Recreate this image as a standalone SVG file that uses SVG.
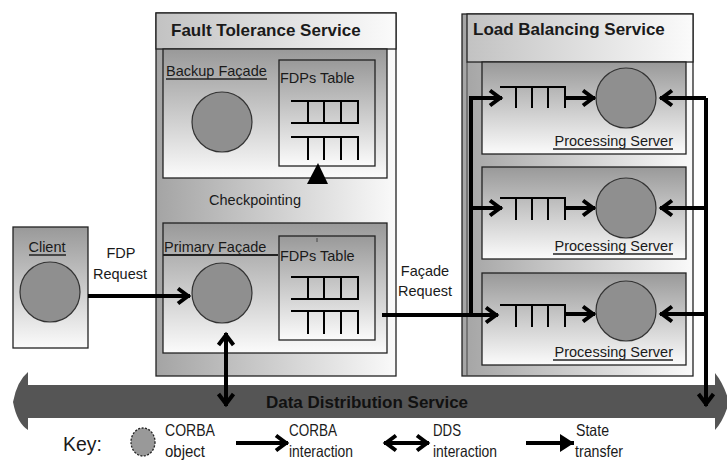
<svg xmlns="http://www.w3.org/2000/svg" width="727" height="461" viewBox="0 0 727 461">
<style>
text{font-family:"Liberation Sans",Arial,sans-serif;fill:#1a1a1a}
.t{font-size:14.5px}
.h{font-size:17px;font-weight:bold}
.k{font-size:16.5px}
.box{stroke:#222;stroke-width:1.3}
.obj{fill:#8f8f8f;stroke:#333;stroke-width:1.2}
.q{stroke:#000;stroke-width:2;fill:none}
.c{stroke:#000;stroke-width:4;fill:none}
.ul{stroke:#222;stroke-width:1.3}
</style>
<defs>
<linearGradient id="gH" x1="0" y1="0" x2="1" y2="0"><stop offset="0" stop-color="#a4a4a4"/><stop offset="1" stop-color="#fafafa"/></linearGradient>
<linearGradient id="gHead" x1="0" y1="0" x2="1" y2="0"><stop offset="0" stop-color="#c2c2c2"/><stop offset="1" stop-color="#fbfbfb"/></linearGradient>
<linearGradient id="gV" x1="0" y1="0" x2="0" y2="1"><stop offset="0" stop-color="#999"/><stop offset="1" stop-color="#fbfbfb"/></linearGradient>
<marker id="chev" viewBox="-16 -10 18 20" refX="0" refY="0" markerWidth="18" markerHeight="20" markerUnits="userSpaceOnUse" orient="auto-start-reverse"><path d="M-12,-7.5 L-2,0 L-12,7.5" fill="none" stroke="#000" stroke-width="4"/></marker>
<marker id="tri" viewBox="-15 -10 16 20" refX="0" refY="0" markerWidth="16" markerHeight="20" markerUnits="userSpaceOnUse" orient="auto"><path d="M-14,-9 L0,0 L-14,9 Z" fill="#000"/></marker>
</defs>
<rect width="727" height="461" fill="#fff"/>

<g id="fault-tolerance-service">
<rect x="156" y="13" width="240" height="363" fill="url(#gH)" class="box"/>
<rect x="156" y="13" width="240" height="36" fill="url(#gHead)" class="box"/>
<text x="171" y="36" class="h">Fault Tolerance Service</text>
<text x="255" y="205" class="t" text-anchor="middle">Checkpointing</text>
</g>

<g id="backup-facade">
<rect x="163" y="49" width="224" height="129" fill="url(#gV)" class="box"/>
<text x="166" y="76" class="t">Backup Façade</text>
<line x1="166" y1="79" x2="267" y2="79" class="ul"/>
<circle cx="222" cy="122" r="30" class="obj"/>
</g>
<g id="backup-fdps-table">
<rect x="279" y="60" width="96" height="106" fill="url(#gV)" class="box"/>
<text x="280" y="83" class="t">FDPs Table</text>
<path d="M291,101H359M291,123H359M308,101V123M324,101V123M341,101V123M358,101V123M291,137H359M308,137V160M324,137V160M341,137V160M358,137V160" class="q"/>
</g>

<g id="primary-facade">
<rect x="163" y="223" width="224" height="130" fill="url(#gV)" class="box"/>
<text x="164" y="252" class="t">Primary Façade</text>
<line x1="163" y1="255" x2="278" y2="255" stroke="#222" stroke-width="2"/>
<circle cx="222" cy="293" r="30" class="obj"/>
</g>
<g id="primary-fdps-table">
<rect x="279" y="236" width="96" height="104" fill="url(#gV)" class="box"/>
<line x1="317" y1="238" x2="317" y2="242" stroke="#444" stroke-width="1"/>
<text x="280" y="261" class="t">FDPs Table</text>
<path d="M291,277H359M291,299H359M308,277V299M324,277V299M341,277V299M358,277V299M291,311H359M308,311V334M324,311V334M341,311V334M358,311V334" class="q"/>
</g>

<g id="client">
<rect x="13" y="227" width="75" height="121" fill="url(#gV)" class="box"/>
<text x="47" y="252" class="t" text-anchor="middle">Client</text>
<line x1="29" y1="255" x2="66" y2="255" class="ul"/>
<circle cx="50" cy="292" r="30" class="obj"/>
</g>

<g id="load-balancing-service">
<rect x="462" y="14" width="231" height="362" fill="url(#gH)" class="box"/>
<line x1="467" y1="62" x2="467" y2="376" stroke="#444" stroke-width="1"/>
<rect x="467" y="14" width="226" height="48" fill="url(#gHead)" class="box"/>
<text x="473" y="35" class="h">Load Balancing Service</text>
</g>

<g id="processing-server-1">
<rect x="482" y="62" width="204" height="92" fill="url(#gV)" class="box"/>
<path d="M500,87H566M516,87V108M532,87V108M548,87V108M565,87V108" class="q"/>
<circle cx="626" cy="98" r="30" class="obj"/>
<text x="673" y="146" class="t" text-anchor="end">Processing Server</text>
<line x1="553" y1="149" x2="673" y2="149" class="ul"/>
</g>
<g id="processing-server-2">
<rect x="482" y="167" width="204" height="92" fill="url(#gV)" class="box"/>
<path d="M500,198H566M516,198V220M532,198V220M548,198V220M565,198V220" class="q"/>
<circle cx="626" cy="208" r="30" class="obj"/>
<text x="673" y="251" class="t" text-anchor="end">Processing Server</text>
<line x1="553" y1="254" x2="673" y2="254" class="ul"/>
</g>
<g id="processing-server-3">
<rect x="482" y="273" width="204" height="92" fill="url(#gV)" class="box"/>
<path d="M500,305H566M516,305V327M532,305V327M548,305V327M565,305V327" class="q"/>
<circle cx="626" cy="311" r="30" class="obj"/>
<text x="673" y="357" class="t" text-anchor="end">Processing Server</text>
<line x1="553" y1="360" x2="673" y2="360" class="ul"/>
</g>

<g id="data-distribution-service">
<path d="M13,402 Q17,381 28,372 L28,385 L715,385 L715,373 Q724,384 729,402 Q724,420 715,430 L715,418 L28,418 L28,430 Q17,423 13,402 Z" fill="#555"/>
<text x="367" y="408" class="h" text-anchor="middle" style="fill:#111">Data Distribution Service</text>
</g>

<g id="connectors">
<text x="121" y="258" class="t" text-anchor="middle">FDP</text>
<text x="120" y="279" class="t" text-anchor="middle">Request</text>
<path d="M88,296H190" class="c" marker-end="url(#chev)"/>
<path d="M226,406V333" class="c" marker-start="url(#chev)" marker-end="url(#chev)"/>
<polygon points="307,184 328,184 318,163" fill="#000"/>
<text x="425" y="276" class="t" text-anchor="middle">Façade</text>
<text x="425" y="296" class="t" text-anchor="middle">Request</text>
<path d="M382,315H498" class="c" marker-end="url(#chev)"/>
<path d="M471,315V98H502" class="c" marker-end="url(#chev)"/>
<path d="M471,208H502" class="c" marker-end="url(#chev)"/>
<path d="M565,98H595" class="c" marker-end="url(#chev)"/>
<path d="M565,208H595" class="c" marker-end="url(#chev)"/>
<path d="M565,314H595" class="c" marker-end="url(#chev)"/>
<path d="M706,98V406" class="c" marker-end="url(#chev)"/>
<path d="M706,98H660" class="c" marker-end="url(#chev)"/>
<path d="M706,208H660" class="c" marker-end="url(#chev)"/>
<path d="M706,314H660" class="c" marker-end="url(#chev)"/>
</g>

<g id="key">
<text x="63" y="451" style="font-size:21px" textLength="39" lengthAdjust="spacingAndGlyphs">Key:</text>
<ellipse cx="143" cy="442" rx="12" ry="14" fill="#999" stroke="#222" stroke-width="1.3" stroke-dasharray="2 1.5"/>
<text x="165" y="436" class="k" textLength="50" lengthAdjust="spacingAndGlyphs">CORBA</text>
<text x="165" y="457" class="k" textLength="40" lengthAdjust="spacingAndGlyphs">object</text>
<path d="M236,443H288" class="c" marker-end="url(#chev)"/>
<text x="289" y="436" class="k" textLength="48" lengthAdjust="spacingAndGlyphs">CORBA</text>
<text x="289" y="457" class="k" textLength="64" lengthAdjust="spacingAndGlyphs">interaction</text>
<path d="M384,443H429" class="c" marker-start="url(#chev)" marker-end="url(#chev)"/>
<text x="433" y="436" class="k" textLength="28" lengthAdjust="spacingAndGlyphs">DDS</text>
<text x="433" y="457" class="k" textLength="64" lengthAdjust="spacingAndGlyphs">interaction</text>
<path d="M526,443H574" class="c" marker-end="url(#tri)"/>
<text x="576" y="436" class="k" textLength="33" lengthAdjust="spacingAndGlyphs">State</text>
<text x="575" y="457" class="k" textLength="48" lengthAdjust="spacingAndGlyphs">transfer</text>
</g>
</svg>
